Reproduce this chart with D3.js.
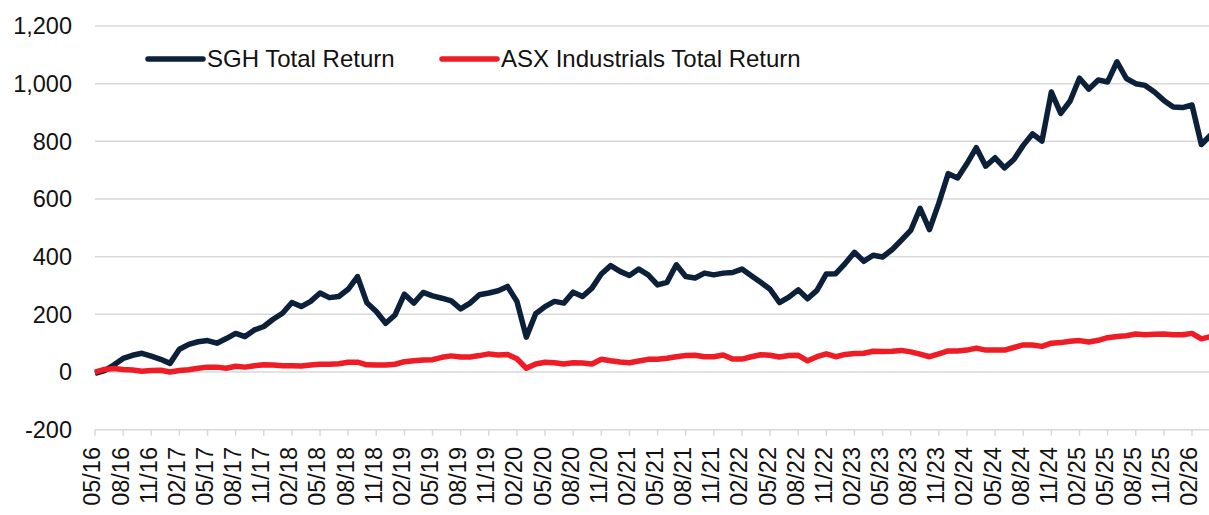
<!DOCTYPE html>
<html>
<head>
<meta charset="utf-8">
<script src="https://cdn.jsdelivr.net/npm/d3@7"></script>
<style>
    body { margin: 0; background: #fff; }
    svg text { font-family: "Liberation Sans", Arial, Helvetica, sans-serif; fill: #111; }
</style>
</head>
<body>
<div id="chart"></div>
<script>
// monthly points, 05/16 .. 04/26
var months = d3.timeMonth.range(new Date(2016, 4, 1), new Date(2026, 4, 1));

var sghReturn = [
    -5, 5, 24, 47, 58, 65, 55, 44, 30, 79, 96, 105, 109, 100, 116, 134, 123, 146, 158, 183,
    204, 241, 227, 245, 274, 258, 262, 287, 331, 240, 210, 169, 198, 270, 239, 276, 264, 256, 247, 219,
    239, 268, 274, 282, 297, 245, 121, 202, 227, 245, 239, 277, 262, 291, 340, 369, 349, 335, 357, 337,
    302, 311, 372, 331, 326, 343, 337, 343, 345, 357, 334, 311, 287, 241, 260, 285, 254, 283, 340, 341,
    376, 415, 384, 405, 399, 424, 457, 491, 568, 494, 586, 688, 673, 723, 778, 714, 743, 708, 737, 786,
    826, 801, 971, 897, 940, 1019, 981, 1013, 1006, 1076, 1018, 1000, 994, 971, 942, 919, 917, 926, 789, 822
];

var asxReturn = [
    0, 9, 12, 9, 7, 3, 5, 6, 0, 5, 8, 13, 17, 17, 13, 20, 17, 22, 25, 24,
    22, 22, 21, 24, 27, 27, 29, 34, 34, 25, 24, 24, 27, 36, 39, 42, 43, 51, 56, 52,
    52, 57, 63, 59, 61, 46, 13, 28, 34, 32, 28, 32, 31, 28, 44, 39, 35, 32, 38, 44,
    44, 48, 53, 57, 58, 53, 53, 59, 45, 45, 53, 60, 58, 52, 57, 58, 39, 53, 63, 53,
    61, 64, 65, 72, 71, 72, 75, 70, 62, 53, 63, 73, 73, 76, 83, 76, 76, 76, 85, 94,
    94, 89, 100, 102, 107, 109, 104, 110, 119, 123, 126, 132, 129, 131, 132, 129, 129, 134, 115, 123
];

var yTicks = [-200, 0, 200, 400, 600, 800, 1000, 1200];
var seriesNames = ["SGH Total Return", "ASX Industrials Total Return"];
var seriesColors = ["#0c203a", "#ee1c25"];

var width = 1209,
    height = 515,
    margin = { top: 26, right: 0, bottom: 85, left: 95 };

var fmtMonth = d3.timeFormat("%m/%y");
var fmtNum = function (d) { return d3.format(",")(d).replace("\u2212", "-"); };

var svg = d3.select("#chart")
    .append("svg")
    .attr("width", width)
    .attr("height", height);

var x = d3.scalePoint()
    .domain(months.map(function (d, i) { return i; }))
    .range([margin.left, margin.left + 119 * 9.376]);

var y = d3.scaleLinear()
    .domain([-200, 1200])
    .range([429.7, margin.top]);

// gridlines
svg.append("g")
    .selectAll("line")
    .data(yTicks)
    .enter().append("line")
    .attr("x1", margin.left)
    .attr("x2", width)
    .attr("y1", function (d) { return y(d); })
    .attr("y2", function (d) { return y(d); })
    .style("stroke", "#d9d9d9")
    .style("stroke-width", 1.5);

// y labels
svg.append("g")
    .selectAll("text")
    .data(yTicks)
    .enter().append("text")
    .attr("x", 72)
    .attr("y", function (d) { return y(d); })
    .attr("dy", "0.35em")
    .attr("text-anchor", "end")
    .style("font-size", "23.5px")
    .text(function (d) { return fmtNum(d); });

// x ticks + labels every 3 months
var quarterIdx = months.map(function (d, i) { return i; }).filter(function (i) { return i % 3 === 0 && i <= 117; });

svg.append("g")
    .selectAll("line")
    .data(quarterIdx)
    .enter().append("line")
    .attr("x1", function (i) { return x(i); })
    .attr("x2", function (i) { return x(i); })
    .attr("y1", y(-200))
    .attr("y2", y(-200) + 6)
    .style("stroke", "#d9d9d9")
    .style("stroke-width", 1.5);

svg.append("g")
    .selectAll("text")
    .data(quarterIdx)
    .enter().append("text")
    .attr("transform", function (i) { return "translate(" + (x(i) - 3) + "," + 447 + ") rotate(-90)"; })
    .attr("dy", "0.36em")
    .attr("text-anchor", "end")
    .style("font-size", "23.5px")
    .text(function (i) { return fmtMonth(months[i]); });

// lines
var line = d3.line()
    .x(function (d, i) { return x(i); })
    .y(function (d) { return y(d); });

[sghReturn, asxReturn].forEach(function (s, k) {
    svg.append("path")
        .datum(s)
        .attr("d", line)
        .style("fill", "none")
        .style("stroke", seriesColors[k])
        .style("stroke-width", 5.5)
        .style("stroke-linejoin", "round");
});

// legend
var legendX = [148, 442];
var legend = svg.append("g")
    .selectAll("g")
    .data(seriesNames)
    .enter().append("g")
    .attr("transform", function (d, i) { return "translate(" + legendX[i] + ",59)"; });

legend.append("line")
    .attr("x1", 0)
    .attr("x2", 55)
    .style("stroke", function (d, i) { return seriesColors[i]; })
    .style("stroke-width", 5.5)
    .style("stroke-linecap", "round");

legend.append("text")
    .attr("x", 59)
    .attr("dy", "0.35em")
    .style("font-size", "24px")
    .text(function (d) { return d; });
</script>
</body>
</html>
